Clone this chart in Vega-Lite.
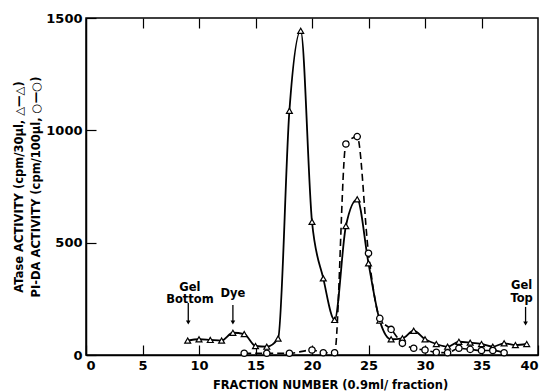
{
  "$schema": "https://vega.github.io/schema/vega-lite/v6.json",
  "width": 452,
  "height": 337,
  "autosize": "none",
  "padding": {"left": 86, "top": 18, "right": 8, "bottom": 37},
  "background": "white",
  "config": {
    "view": {"stroke": "black", "strokeWidth": 1.5},
    "font": "DejaVu Sans",
    "axis": {"grid": false, "domainColor": "black", "tickColor": "black", "labelColor": "black", "titleColor": "black", "labelFont": "DejaVu Sans", "titleFont": "DejaVu Sans", "domainWidth": 1.5, "tickWidth": 1.2}
  },
  "datasets": {
    "atase": [
      {"fraction": 9, "activity": 64}, {"fraction": 10, "activity": 70}, {"fraction": 11, "activity": 67},
      {"fraction": 12, "activity": 64}, {"fraction": 13, "activity": 99}, {"fraction": 14, "activity": 93},
      {"fraction": 15, "activity": 40}, {"fraction": 16, "activity": 37}, {"fraction": 17, "activity": 73},
      {"fraction": 18, "activity": 1087}, {"fraction": 19, "activity": 1443}, {"fraction": 20, "activity": 593},
      {"fraction": 21, "activity": 341}, {"fraction": 22, "activity": 156}, {"fraction": 23, "activity": 574},
      {"fraction": 24, "activity": 693}, {"fraction": 25, "activity": 408}, {"fraction": 26, "activity": 153},
      {"fraction": 27, "activity": 70}, {"fraction": 28, "activity": 74}, {"fraction": 29, "activity": 108},
      {"fraction": 30, "activity": 70}, {"fraction": 31, "activity": 49}, {"fraction": 32, "activity": 37},
      {"fraction": 33, "activity": 59}, {"fraction": 34, "activity": 55}, {"fraction": 35, "activity": 49},
      {"fraction": 36, "activity": 37}, {"fraction": 37, "activity": 52}, {"fraction": 38, "activity": 44},
      {"fraction": 39, "activity": 49}
    ],
    "pida": [
      {"fraction": 14, "activity": 8}, {"fraction": 16, "activity": 8}, {"fraction": 18, "activity": 8},
      {"fraction": 20, "activity": 22}, {"fraction": 21, "activity": 10}, {"fraction": 22, "activity": 10},
      {"fraction": 23, "activity": 939}, {"fraction": 24, "activity": 972}, {"fraction": 25, "activity": 453},
      {"fraction": 26, "activity": 163}, {"fraction": 27, "activity": 114}, {"fraction": 28, "activity": 52},
      {"fraction": 29, "activity": 30}, {"fraction": 30, "activity": 22}, {"fraction": 31, "activity": 12},
      {"fraction": 32, "activity": 10}, {"fraction": 33, "activity": 30}, {"fraction": 34, "activity": 25},
      {"fraction": 35, "activity": 20}, {"fraction": 36, "activity": 20}, {"fraction": 37, "activity": 10}
    ],
    "arrows": [
      {"fraction": 9.05, "top": 231, "tip": 145},
      {"fraction": 13, "top": 222, "tip": 145},
      {"fraction": 38.9, "top": 214, "tip": 140}
    ],
    "notes": [
      {"fraction": 9.2, "level": 300, "label": "Gel\nBottom"},
      {"fraction": 13.0, "level": 270, "label": "Dye"},
      {"fraction": 38.55, "level": 305, "label": "Gel\nTop"}
    ]
  },
  "resolve": {"axis": {"x": "independent"}},
  "layer": [
    {
      "data": {"name": "atase"},
      "mark": {"type": "line", "interpolate": "monotone", "color": "black", "strokeWidth": 1.8},
      "encoding": {
        "x": {"field": "fraction", "type": "quantitative", "scale": {"domain": [0, 40], "nice": false},
          "axis": {"orient": "bottom", "values": [0,5,10,15,20,25,30,35,40], "tickSize": -10, "labelPadding": 14, "labelFontSize": 13, "labelFontWeight": "bold",
            "title": "FRACTION NUMBER (0.9ml/ fraction)", "titleFontSize": 11.5, "titleFontWeight": "bold", "titlePadding": 7, "titleX": 244, "titleAlign": "center"}},
        "y": {"field": "activity", "type": "quantitative", "scale": {"domain": [0, 1500], "nice": false},
          "axis": {"values": [0, 500, 1000, 1500], "format": "d", "tickSize": -10, "labelPadding": 14, "labelFontSize": 13, "labelFontWeight": "bold",
            "title": ["ATase  ACTIVITY (cpm/30µl, △—△)", "PI-DA  ACTIVITY (cpm/100µl, ○—○)"], "titleFontSize": 11.5, "titleFontWeight": "bold", "titlePadding": 4, "titleLineHeight": 17}}
      }
    },
    {
      "data": {"name": "pida"},
      "mark": {"type": "line", "interpolate": "monotone", "color": "black", "strokeWidth": 1.6, "strokeDash": [7, 4]},
      "encoding": {
        "x": {"field": "fraction", "type": "quantitative", "axis": null},
        "y": {"field": "activity", "type": "quantitative"}
      }
    },
    {
      "data": {"name": "atase"},
      "mark": {"type": "point", "shape": "triangle-up", "filled": true, "fill": "white", "stroke": "black", "strokeWidth": 1.2, "size": 35, "opacity": 1},
      "encoding": {
        "x": {"field": "fraction", "type": "quantitative", "axis": null},
        "y": {"field": "activity", "type": "quantitative"}
      }
    },
    {
      "data": {"name": "pida"},
      "mark": {"type": "point", "shape": "circle", "filled": true, "fill": "white", "stroke": "black", "strokeWidth": 1.3, "size": 40, "opacity": 1},
      "encoding": {
        "x": {"field": "fraction", "type": "quantitative", "axis": null},
        "y": {"field": "activity", "type": "quantitative"}
      }
    },
    {
      "data": {"name": "arrows"},
      "mark": {"type": "rule", "color": "black", "strokeWidth": 1.3},
      "encoding": {
        "x": {"field": "fraction", "type": "quantitative", "axis": null},
        "y": {"field": "top", "type": "quantitative"},
        "y2": {"field": "tip"}
      }
    },
    {
      "data": {"name": "arrows"},
      "mark": {"type": "point", "shape": "triangle-down", "filled": true, "color": "black", "size": 22, "opacity": 1},
      "encoding": {
        "x": {"field": "fraction", "type": "quantitative", "axis": null},
        "y": {"field": "tip", "type": "quantitative"}
      }
    },
    {
      "data": {"name": "notes"},
      "mark": {"type": "text", "fontSize": 11.5, "fontWeight": "bold", "color": "black", "baseline": "middle", "align": "center", "lineBreak": "\n", "lineHeight": 12.5},
      "encoding": {
        "x": {"field": "fraction", "type": "quantitative",
          "axis": {"orient": "top", "values": [5,10,15,20,25,30,35], "labels": false, "domain": false, "tickSize": -10, "title": null}},
        "y": {"field": "level", "type": "quantitative"},
        "text": {"field": "label"}
      }
    }
  ]
}
